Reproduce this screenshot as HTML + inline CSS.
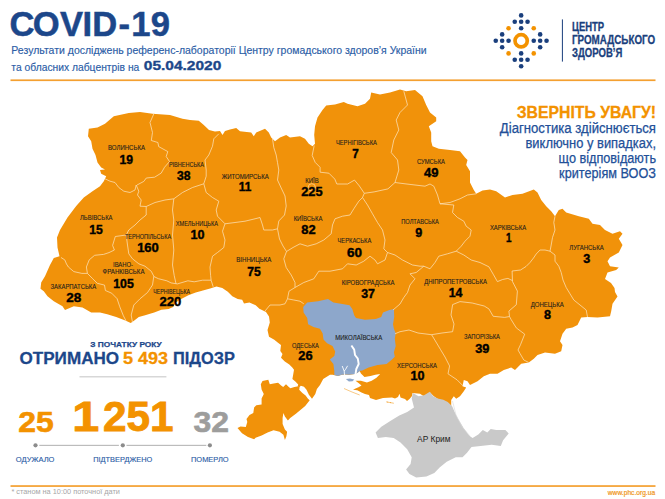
<!DOCTYPE html>
<html lang="uk"><head><meta charset="utf-8"><title>COVID-19</title>
<style>
html,body{margin:0;padding:0;background:#fff;overflow:hidden}
svg{display:block}
text{font-family:"Liberation Sans",sans-serif}
</style></head><body>
<svg width="665" height="499" viewBox="0 0 665 499">
<rect width="665" height="499" fill="#fff"/>
<text x="9.4 32.8 60 82.5 92.3 118.6 131.2 150.7" y="36.4" font-size="34.6" font-weight="bold" fill="#1C478A" stroke="#1C478A" stroke-width="0.5">COVID-19</text>
<text x="11.3" y="53.7" font-size="10.8" fill="#2B5DA6" stroke="#2B5DA6" stroke-width="0.15" textLength="415.4" lengthAdjust="spacingAndGlyphs">Результати досліджень референс-лабораторії Центру громадського здоров’я України</text>
<text x="11.3" y="70.8" font-size="10.8" fill="#2B5DA6" stroke="#2B5DA6" stroke-width="0.15" textLength="128" lengthAdjust="spacingAndGlyphs">та обласних лабцентрів на</text>
<text x="143.8" y="70.2" font-size="13.2" font-weight="bold" fill="#1C478A" stroke="#1C478A" stroke-width="0.35" textLength="77.5" lengthAdjust="spacingAndGlyphs">05.04.2020</text>
<rect x="10.5" y="79.4" width="645" height="1.7" fill="#F4A030"/>
<rect x="10.5" y="485.2" width="645" height="1.7" fill="#F4A030"/>
<circle cx="495.75" cy="40.80" r="2.3" fill="#1A3F7D"/>
<circle cx="502.15" cy="34.40" r="2.3" fill="#1A3F7D"/>
<circle cx="502.15" cy="40.80" r="2.3" fill="#1A3F7D"/>
<circle cx="502.15" cy="47.20" r="2.3" fill="#1A3F7D"/>
<circle cx="508.55" cy="40.80" r="2.3" fill="#1A3F7D"/>
<circle cx="514.75" cy="21.80" r="2.3" fill="#1A3F7D"/>
<circle cx="514.75" cy="59.80" r="2.3" fill="#1A3F7D"/>
<circle cx="521.15" cy="15.40" r="2.3" fill="#1A3F7D"/>
<circle cx="521.15" cy="21.80" r="2.3" fill="#1A3F7D"/>
<circle cx="521.15" cy="28.20" r="2.3" fill="#1A3F7D"/>
<circle cx="521.15" cy="53.40" r="2.3" fill="#1A3F7D"/>
<circle cx="521.15" cy="59.80" r="2.3" fill="#1A3F7D"/>
<circle cx="521.15" cy="66.20" r="2.3" fill="#1A3F7D"/>
<circle cx="527.55" cy="21.80" r="2.3" fill="#1A3F7D"/>
<circle cx="527.55" cy="59.80" r="2.3" fill="#1A3F7D"/>
<circle cx="533.75" cy="40.80" r="2.3" fill="#1A3F7D"/>
<circle cx="540.15" cy="34.40" r="2.3" fill="#1A3F7D"/>
<circle cx="540.15" cy="40.80" r="2.3" fill="#1A3F7D"/>
<circle cx="540.15" cy="47.20" r="2.3" fill="#1A3F7D"/>
<circle cx="546.55" cy="40.80" r="2.3" fill="#1A3F7D"/>
<circle cx="508.55" cy="28.20" r="2.3" fill="#F39200"/>
<circle cx="508.55" cy="53.40" r="2.3" fill="#F39200"/>
<circle cx="533.75" cy="28.20" r="2.3" fill="#F39200"/>
<circle cx="533.75" cy="53.40" r="2.3" fill="#F39200"/>
<circle cx="521.15" cy="40.8" r="6.15" fill="none" stroke="#F39200" stroke-width="3.7"/>
<rect x="561.9" y="19.4" width="1" height="42.2" fill="#1A3F7D"/>
<text x="572" y="30.7" font-size="12.2" font-weight="bold" fill="#1A3F7D" stroke="#1A3F7D" stroke-width="0.3" textLength="32.1" lengthAdjust="spacingAndGlyphs">ЦЕНТР</text>
<text x="572" y="43.9" font-size="12.2" font-weight="bold" fill="#1A3F7D" stroke="#1A3F7D" stroke-width="0.3" textLength="83.1" lengthAdjust="spacingAndGlyphs">ГРОМАДСЬКОГО</text>
<text x="572" y="57.2" font-size="12.2" font-weight="bold" fill="#1A3F7D" stroke="#1A3F7D" stroke-width="0.3" textLength="50.3" lengthAdjust="spacingAndGlyphs">ЗДОРОВ’Я</text>
<text x="656.1" y="117.6" font-size="16.6" stroke="#F39200" stroke-width="0.3" font-weight="bold" fill="#F39200" text-anchor="end" textLength="139.4" lengthAdjust="spacingAndGlyphs">ЗВЕРНІТЬ УВАГУ!</text>
<text x="656" y="133.1" font-size="14" fill="#224F98" stroke="#224F98" stroke-width="0.25" text-anchor="end" textLength="156.2" lengthAdjust="spacingAndGlyphs">Діагностика здійснюється</text>
<text x="656" y="148.1" font-size="14" fill="#224F98" stroke="#224F98" stroke-width="0.25" text-anchor="end" textLength="130.5" lengthAdjust="spacingAndGlyphs">виключно у випадках,</text>
<text x="656" y="163.0" font-size="14" fill="#224F98" stroke="#224F98" stroke-width="0.25" text-anchor="end" textLength="97.4" lengthAdjust="spacingAndGlyphs">що відповідають</text>
<text x="656" y="177.7" font-size="14" fill="#224F98" stroke="#224F98" stroke-width="0.25" text-anchor="end" textLength="96.9" lengthAdjust="spacingAndGlyphs">критеріям ВООЗ</text>
<text x="126" y="346.7" font-size="8" font-weight="bold" fill="#1C478A" stroke="#1C478A" stroke-width="0.25" text-anchor="middle" textLength="71.5" lengthAdjust="spacingAndGlyphs">З ПОЧАТКУ РОКУ</text>
<text y="364.1" font-size="17.2" font-weight="bold" fill="#1C478A" stroke="#1C478A" stroke-width="0.3"><tspan x="19.5" textLength="99.6" lengthAdjust="spacingAndGlyphs">ОТРИМАНО</tspan><tspan font-size="4"> </tspan><tspan x="122.9" fill="#F39200" stroke="#F39200" textLength="45.2" lengthAdjust="spacingAndGlyphs">5 493</tspan><tspan font-size="4"> </tspan><tspan x="173" textLength="61.8" lengthAdjust="spacingAndGlyphs">ПІДОЗР</tspan></text>
<rect x="79.5" y="376.4" width="86.9" height="0.9" fill="#bdbdbd"/>
<text x="18.2" y="431.6" font-size="29.8" font-weight="bold" fill="#F39200" stroke="#F39200" stroke-width="0.6" textLength="35.5" lengthAdjust="spacingAndGlyphs">25</text>
<text y="430.6" font-size="42.6" font-weight="bold" fill="#F39200" stroke="#F39200" stroke-width="0.9"><tspan x="72.3" textLength="27" lengthAdjust="spacingAndGlyphs">1</tspan><tspan font-size="10"> </tspan><tspan x="103" textLength="70.5" lengthAdjust="spacingAndGlyphs">251</tspan></text>
<text x="193.6" y="431.6" font-size="29.8" font-weight="bold" fill="#9D9D9C" stroke="#9D9D9C" stroke-width="0.6" textLength="35.5" lengthAdjust="spacingAndGlyphs">32</text>
<rect x="39.3" y="444.85" width="79.6" height="0.9" fill="#a6a6a6"/>
<rect x="126.5" y="444.85" width="79.8" height="0.9" fill="#a6a6a6"/>
<circle cx="35.5" cy="445.3" r="2.1" fill="#8c8c8c"/>
<circle cx="122.8" cy="445.3" r="2.1" fill="#8c8c8c"/>
<circle cx="209.9" cy="445.3" r="2.1" fill="#8c8c8c"/>
<text x="15.8" y="461.9" font-size="7.1" fill="#2B5DA6" stroke="#2B5DA6" stroke-width="0.12" textLength="38.7" lengthAdjust="spacingAndGlyphs">ОДУЖАЛО</text>
<text x="93.2" y="461.9" font-size="7.1" fill="#2B5DA6" stroke="#2B5DA6" stroke-width="0.12" textLength="59.1" lengthAdjust="spacingAndGlyphs">ПІДТВЕРДЖЕНО</text>
<text x="191" y="461.9" font-size="7.1" fill="#2B5DA6" stroke="#2B5DA6" stroke-width="0.12" textLength="37.6" lengthAdjust="spacingAndGlyphs">ПОМЕРЛО</text>
<text x="11.4" y="494.2" font-size="7.3" fill="#a6a6a6" textLength="108.6" lengthAdjust="spacingAndGlyphs">* станом на 10:00 поточної дати</text>
<text x="655.1" y="494.7" font-size="6.8" fill="#F0961A" stroke="#F0961A" stroke-width="0.2" text-anchor="end" textLength="47.3" lengthAdjust="spacingAndGlyphs">www.phc.org.ua</text>
<path d="M113.8,116.2 L128.8,113.0 L140.0,112.0 L152.5,113.8 L170.0,115.0 L182.5,118.8 L190.0,120.0 L198.8,120.8 L203.8,125.0 L209.0,130.0 L215.0,131.5 L220.0,131.0 L222.5,135.0 L225.0,131.0 L230.0,129.5 L236.2,128.0 L240.0,131.2 L251.2,132.5 L253.8,136.2 L256.2,132.5 L265.0,128.8 L268.8,132.5 L271.2,137.5 L275.0,141.2 L280.0,137.5 L286.2,135.0 L290.0,137.5 L300.0,136.2 L305.0,138.8 L308.8,143.8 L312.5,146.2 L315.0,143.8 L314.2,135.0 L315.0,126.2 L317.5,117.5 L322.5,110.0 L326.2,105.5 L335.0,104.5 L343.8,102.0 L347.5,103.8 L357.5,106.2 L365.0,103.8 L370.0,98.8 L371.2,92.5 L380.0,94.5 L390.0,92.5 L400.0,89.5 L406.2,91.2 L415.0,90.0 L422.5,96.2 L426.2,105.0 L430.0,112.5 L436.2,117.5 L436.2,121.2 L428.8,126.2 L431.2,132.5 L431.2,141.2 L432.5,146.2 L438.8,148.8 L450.0,150.0 L460.0,151.2 L465.0,157.5 L467.5,160.0 L466.2,165.0 L470.0,171.2 L470.0,182.5 L473.8,190.0 L476.2,193.8 L482.5,190.5 L490.0,189.5 L496.2,191.2 L505.0,197.5 L512.5,195.0 L522.5,193.8 L533.8,189.5 L537.5,192.5 L541.2,200.0 L546.2,206.2 L551.2,211.2 L555.0,216.2 L558.8,210.0 L562.5,208.8 L566.2,212.5 L578.8,216.2 L588.8,218.8 L592.5,223.8 L600.0,225.0 L605.0,230.0 L612.5,233.8 L620.0,231.2 L622.5,233.8 L618.8,238.8 L622.5,245.0 L618.8,252.5 L610.0,257.5 L607.5,261.2 L610.0,266.2 L618.8,267.5 L616.2,270.0 L607.5,272.5 L605.0,279.0 L611.0,283.0 L614.5,288.0 L615.0,292.0 L617.5,296.5 L612.5,303.8 L611.2,311.2 L610.0,316.2 L597.5,317.5 L587.5,317.0 L581.2,317.5 L577.5,325.0 L572.5,327.5 L566.2,328.8 L562.5,333.8 L560.0,341.2 L562.5,345.0 L561.2,351.2 L555.0,353.8 L545.0,352.5 L537.5,355.0 L533.8,358.8 L528.8,362.5 L521.2,363.8 L515.0,370.0 L511.2,367.5 L503.8,370.0 L497.5,373.8 L490.0,373.8 L483.8,376.2 L477.5,381.2 L470.0,385.0 L467.5,381.2 L463.8,380.0 L462.5,386.2 L466.2,387.5 L463.8,391.2 L460.0,396.2 L456.2,398.8 L453.8,396.2 L451.2,400.0 L451.2,406.2 L448.8,407.5 L445.0,401.2 L441.2,401.2 L437.5,398.8 L433.8,396.2 L430.0,392.5 L427.5,396.2 L423.8,396.2 L420.0,393.8 L412.5,393.0 L412.0,396.0 L409.5,399.0 L407.0,401.0 L405.0,399.0 L400.5,397.5 L399.5,393.8 L398.0,397.0 L395.0,398.5 L392.0,397.5 L383.0,398.0 L376.0,400.0 L370.0,398.0 L369.0,395.0 L365.0,394.0 L362.0,392.7 L357.3,390.3 L353.0,389.7 L355.5,388.5 L358.5,387.3 L361.5,385.5 L358.5,383.0 L355.5,380.7 L360.9,380.7 L366.9,382.5 L371.7,380.7 L376.5,377.7 L380.2,374.0 L375.3,374.7 L370.5,375.9 L364.5,377.0 L360.9,373.5 L359.7,371.0 L357.3,372.9 L354.9,374.0 L348.9,374.7 L345.3,374.4 L341.7,374.8 L338.0,375.9 L332.6,374.7 L330.0,374.8 L323.2,379.0 L320.0,385.0 L316.9,389.0 L315.3,393.9 L312.0,398.7 L308.9,394.7 L306.5,389.8 L304.0,386.8 L300.8,385.8 L299.4,387.2 L297.6,386.4 L298.2,384.6 L295.6,381.8 L292.4,379.0 L293.2,374.6 L294.0,369.8 L292.3,367.6 L289.3,364.6 L284.8,361.6 L281.0,357.8 L282.5,354.0 L280.3,351.0 L281.0,345.0 L278.0,342.8 L274.3,339.8 L269.0,336.8 L267.5,330.0 L269.8,322.5 L269.0,316.5 L266.0,312.0 L259.4,308.8 L255.7,305.2 L249.4,302.5 L244.0,303.4 L242.2,299.8 L237.7,298.9 L232.3,296.2 L227.8,291.7 L222.3,288.0 L216.5,286.6 L210.1,288.6 L202.9,290.6 L195.7,292.5 L188.4,295.3 L181.2,299.0 L175.8,302.6 L173.1,307.1 L168.6,308.9 L161.4,309.8 L154.2,312.5 L145.1,315.2 L138.8,317.0 L134.3,320.6 L130.7,323.0 L125.3,320.6 L116.2,317.0 L107.2,314.3 L100.0,312.5 L91.2,312.5 L82.5,307.5 L73.8,306.2 L65.0,310.0 L62.5,306.2 L53.8,301.2 L47.5,296.2 L43.8,291.2 L40.5,288.8 L41.2,282.5 L45.0,276.2 L50.0,265.0 L53.8,258.0 L59.5,256.2 L57.5,247.5 L57.0,237.5 L60.0,230.0 L67.5,217.5 L76.2,206.0 L83.8,197.5 L92.5,191.2 L100.0,186.2 L103.8,181.2 L106.2,176.2 L101.2,173.8 L100.0,170.0 L105.0,169.5 L101.2,167.5 L97.5,162.5 L95.5,155.0 L92.5,148.8 L91.2,141.2 L88.0,136.2 L88.8,128.8 L97.5,127.5 L105.0,123.8Z" fill="#F1920A"/>
<path d="M299.2,389.8 L302.4,393.0 L305.6,395.5 L308.0,398.7 L309.7,400.3 L305.2,406.0 L300.7,409.8 L296.2,413.6 L290.2,418.0 L287.9,420.4 L284.9,416.6 L283.4,412.9 L282.6,418.0 L282.6,424.0 L284.9,429.4 L287.1,431.7 L286.4,436.2 L284.9,439.9 L283.4,434.7 L279.6,431.7 L273.6,430.2 L267.6,432.4 L261.6,435.4 L255.6,437.7 L254.1,439.2 L248.0,436.9 L242.0,433.2 L237.5,427.9 L240.5,426.4 L245.8,427.1 L247.3,421.9 L246.5,418.9 L249.5,415.1 L253.3,412.9 L254.1,407.6 L256.3,405.3 L261.6,404.6 L261.6,398.6 L263.8,394.1 L261.6,389.5 L260.8,384.3 L262.5,381.0 L268.3,379.8 L269.8,384.3 L273.6,383.5 L278.1,382.8 L281.1,385.5 L283.2,387.0 L286.0,384.2 L288.8,387.0 L290.4,388.2 L294.4,387.0 L298.6,386.2 L299.6,387.4Z" fill="#F1920A"/>
<path d="M303.2,307.1 L307.2,302.6 L318.0,301.2 L328.0,299.0 L333.4,302.6 L342.4,304.1 L349.6,305.3 L352.3,309.0 L354.2,315.3 L356.0,318.0 L365.0,319.8 L375.8,318.9 L381.2,317.1 L383.0,312.6 L389.4,309.9 L393.9,309.0 L394.2,317.1 L393.0,324.3 L393.9,328.8 L395.7,333.3 L394.8,338.7 L395.7,346.0 L393.9,352.3 L394.8,356.8 L392.0,359.5 L386.6,364.0 L377.6,364.9 L368.6,367.6 L362.3,370.5 L359.7,371.0 L357.3,372.9 L354.9,374.0 L348.9,374.7 L345.3,374.4 L341.7,374.8 L338.0,375.9 L334.3,375.0 L334.3,371.2 L333.4,364.0 L329.8,359.5 L334.3,355.9 L335.2,351.4 L332.5,346.0 L327.1,343.2 L323.5,339.6 L322.6,333.3 L319.9,328.8 L313.5,327.0 L308.1,324.3 L307.2,318.0 L303.6,312.6Z" fill="#8DA7CB"/>
<path d="M345.9,378.9 L350.0,378.6 L354.3,379.5 L352.5,381.3 L348.9,381.5 L347.0,380.0Z" fill="#8DA7CB"/>
<path d="M412.9,392.9 L418.5,396.3 L424.1,395.2 L429.8,391.8 L433.2,396.3 L437.7,398.5 L443.3,399.7 L447.8,401.9 L451.2,405.3 L452.3,406.4 L454.6,412.1 L458.0,418.8 L463.6,427.9 L469.3,435.8 L472.6,438.0 L478.3,434.6 L482.8,430.1 L487.3,432.4 L490.7,429.0 L496.3,430.1 L505.4,430.1 L508.7,433.5 L503.1,440.3 L500.8,445.9 L491.8,444.8 L480.5,445.9 L471.5,447.0 L467.0,452.7 L462.5,457.2 L455.7,457.2 L446.7,461.7 L439.9,467.3 L434.3,473.0 L426.4,476.4 L416.2,477.5 L409.5,474.1 L406.1,469.6 L410.6,464.0 L411.7,457.2 L407.2,449.3 L400.5,442.5 L393.7,438.0 L385.8,436.9 L377.9,438.0 L375.6,432.4 L381.3,426.7 L390.3,421.0 L399.3,415.5 L407.2,412.0 L414.0,407.6 L411.7,398.5Z" fill="#C9C9C9"/>
<path d="M344,388.5 L352,392 L359.7,395" fill="none" stroke="#F1920A" stroke-width="0.5"/>
<path d="M386.5,401.9 L393.5,403.2" fill="none" stroke="#F1920A" stroke-width="0.9" stroke-dasharray="2.2 0.8"/>
<path d="M452.5,401 L456,415 L462.5,427.5 L470,436" fill="none" stroke="#d9d9d9" stroke-width="0.6"/>
<path d="M154.2,113.0 L150.0,122.5 L152.5,132.5 L151.3,140.5 L157.9,142.5 L158.7,146.6 L167.8,151.6 L166.2,156.5 L169.5,161.5 L164.5,167.3 L161.2,173.1 L154.6,177.2 L146.3,178.0 L143.8,181.4 L137.0,185.0 M105.0,178.8 L110.0,181.2 L115.0,182.5 L118.8,187.5 L123.8,191.2 L130.0,192.5 L135.0,190.0 L136.2,185.0 M136.2,185.0 L138.8,191.2 L137.5,195.0 L141.2,200.0 L140.0,206.2 L146.2,206.5 M146.2,206.5 L155.0,202.5 L165.0,200.0 L173.8,198.8 M173.8,198.8 L182.5,192.5 L192.5,187.5 L203.8,183.8 M218.8,133.8 L213.8,138.8 L212.5,146.2 L208.8,155.0 L205.0,160.0 L206.2,170.0 L206.2,176.2 L203.8,183.8 M203.8,183.8 L206.2,192.5 L212.5,197.5 L218.8,201.2 L216.2,210.0 L217.5,216.2 L225.0,223.8 M225.0,223.8 L235.0,222.5 L245.0,221.2 L255.0,218.8 L260.0,217.5 L262.5,225.0 L263.8,230.0 L272.5,230.0 L277.5,228.8 M225.0,223.8 L222.5,231.2 L225.0,240.0 L223.8,247.5 L217.5,252.5 L212.5,256.2 L210.0,267.1 L210.6,275.5 L211.1,280.2 M146.2,206.5 L146.2,215.0 L140.0,220.0 L135.0,225.0 L128.8,230.0 L126.2,235.0 M126.2,235.0 L115.3,236.5 L112.6,245.4 L114.4,250.0 L109.0,252.6 L103.6,254.4 L94.6,255.3 L89.2,259.9 L86.4,267.0 L87.4,273.4 M61.0,257.5 L64.8,259.9 L66.5,264.0 L68.4,267.0 L73.8,271.6 L81.9,273.4 L87.4,273.4 M87.4,273.4 L92.8,278.8 L97.3,283.3 L104.5,285.1 L105.4,290.5 L111.7,293.2 L117.1,298.7 L119.8,306.8 L123.4,315.8 L126.0,320.8 M126.2,235.0 L127.5,245.0 L128.8,253.8 L132.5,258.8 L138.8,263.8 L145.0,266.2 L151.2,271.2 L153.8,276.2 M153.8,276.2 L152.5,285.0 L147.5,292.5 L140.0,298.8 L133.8,305.0 L131.2,315.0 L132.5,322.5 M153.8,276.5 L158.4,278.7 L166.8,280.8 L171.1,282.9 L176.0,283.7 M173.8,198.8 L172.5,210.0 L173.8,220.0 L172.5,235.0 L173.8,250.0 L172.5,265.0 L174.2,275.5 L176.0,283.7 M176.0,283.7 L177.4,283.9 L187.9,280.8 L194.2,281.8 L202.6,280.2 L211.1,280.2 L213.2,286.8 M272.5,138.8 L273.8,147.5 L276.2,155.0 L277.5,162.5 L278.8,170.0 L277.5,180.0 L281.2,188.0 L285.0,196.0 L286.2,206.0 L284.5,215.0 L278.8,221.0 L277.5,228.8 M277.5,228.8 L279.5,239.0 L283.0,246.0 L286.5,251.5 M286.5,251.5 L293.0,247.5 L300.0,243.8 L307.5,246.2 L316.2,243.8 L323.8,240.0 L331.2,233.8 L332.5,225.0 L335.0,218.8 L342.5,216.2 L350.0,215.0 L353.8,208.8 L358.8,201.2 L362.5,197.5 M362.5,197.5 L364.3,193.3 M314.2,145.5 L312.2,155.5 L315.2,162.4 L320.1,167.3 L320.1,172.2 L328.9,173.2 L334.8,179.1 L336.8,184.0 L347.6,184.0 L354.5,180.1 L359.4,186.0 L364.3,193.3 M364.3,193.3 L374.1,191.9 L387.9,188.9 L395.0,182.5 M403.8,91.2 L407.5,105.0 L400.0,112.5 L396.2,120.0 L398.8,130.0 L393.8,140.0 L391.2,152.5 L397.5,160.0 L398.8,170.0 L395.0,182.5 M395.0,182.5 L405.0,183.8 L415.0,185.0 L425.0,186.2 L430.0,184.0 L433.8,186.2 L437.5,195.0 L440.0,203.8 M440.0,203.8 L450.0,202.5 L460.0,198.8 L467.5,195.0 L476.2,193.8 M440.0,203.8 L453.8,205.0 L452.5,212.5 L457.5,217.5 L463.8,221.2 L466.2,226.2 L471.2,230.0 L470.0,236.2 L465.0,241.2 L461.2,246.2 L456.2,251.2 M456.2,251.2 L447.5,253.8 L438.8,256.2 L435.0,262.5 L430.0,268.8 L423.8,266.2 M423.8,266.2 L420.0,266.2 L412.5,265.0 L402.5,260.0 L395.0,255.0 L387.5,252.5 M362.5,197.5 L367.5,205.0 L372.5,213.8 L377.5,222.5 L382.5,230.0 L385.0,240.0 L383.8,248.8 L387.5,252.5 M295.0,287.5 L303.8,282.5 L313.8,278.8 L318.8,271.2 L330.0,271.2 L342.5,268.8 L347.5,263.8 L356.2,265.0 L363.8,261.2 L370.0,256.2 L375.0,260.0 L377.5,263.8 L385.0,260.0 L387.5,252.5 M286.5,251.5 L283.8,258.8 L286.2,267.5 L291.2,275.0 L295.0,282.5 L295.0,287.5 M295.0,287.5 L289.0,291.2 L287.5,298.8 M264.8,311.3 L270.0,305.0 L280.0,305.0 L285.0,303.8 L287.5,298.8 M287.5,298.8 L293.8,300.0 L300.0,301.2 L303.8,303.8 M423.8,266.2 L416.2,272.5 L410.0,273.8 L415.0,278.8 L410.0,285.0 L407.5,292.5 L403.8,297.5 L400.0,304.0 L393.0,310.0 M456.2,251.2 L463.8,255.0 L471.2,260.0 L480.0,262.5 L488.9,266.8 L493.2,274.2 L497.4,281.6 L502.6,279.5 L507.9,278.4 L512.3,280.5 M512.1,271.0 L520.5,270.0 L526.0,266.5 L530.0,262.5 L533.5,258.0 L536.2,254.0 L540.0,250.0 L545.0,250.0 L550.0,251.2 M555.0,216.2 L553.8,222.5 L555.0,230.0 L552.5,237.5 L551.2,245.0 L550.0,251.2 M550.0,251.2 L555.0,255.0 L555.0,261.2 L558.8,266.2 L561.2,272.5 L563.0,280.0 L566.2,287.5 L570.0,293.8 L573.8,300.0 L580.0,305.0 L586.2,310.0 L587.5,317.0 M512.1,271.0 L512.5,281.6 L517.4,291.1 L516.3,304.7 L508.9,311.1 L509.5,316.5 M509.5,316.5 L511.1,319.5 L516.3,327.9 L524.7,334.2 L520.5,344.7 L518.0,350.0 L520.0,353.5 L523.8,360.0 L528.8,362.5 M509.5,316.5 L504.7,317.4 L493.2,316.3 L488.9,308.9 L484.2,306.0 L472.2,303.0 L460.0,301.6 L452.6,304.6 L451.0,315.0 L454.0,324.0 L452.6,331.7 L442.0,333.0 L431.6,334.7 M431.6,334.7 L418.0,333.0 L409.0,330.0 L400.0,331.7 L395.0,333.8 M431.6,334.7 L436.0,342.0 L440.6,349.7 L445.0,357.0 L449.6,366.0 L448.0,373.8 L457.0,379.8 L463.0,385.8" fill="none" stroke="#FCE6C4" stroke-width="0.7" stroke-linejoin="round"/>
<circle cx="311.8" cy="187.3" r="3.6" fill="none" stroke="#FCE6C4" stroke-width="0.6"/>
<path d="M351.4,345.5 L354.2,349.6 L355.0,355.0 L357.8,358.6 L358.7,364.0 L356.3,369.0 L355.5,374.5" fill="none" stroke="#fff" stroke-width="1.9" stroke-linejoin="round"/>
<path d="M342.2,366.0 L344.2,371.0 L344.5,375.0 M347.6,365.8 L345.5,369.5 L344.2,371.0" fill="none" stroke="#fff" stroke-width="0.9"/>
<text x="126.50" y="149.79" font-size="6.4" fill="#1d1d1b" stroke="#1d1d1b" stroke-width="0.1" text-anchor="middle" textLength="37" lengthAdjust="spacingAndGlyphs">ВОЛИНСЬКА</text>
<text x="126.25" y="163.72" font-size="12.5" font-weight="bold" fill="#000" stroke="#000" stroke-width="0.4" text-anchor="middle" textLength="13.5" lengthAdjust="spacingAndGlyphs">19</text>
<text x="186.40" y="166.79" font-size="6.4" fill="#1d1d1b" stroke="#1d1d1b" stroke-width="0.1" text-anchor="middle" textLength="35" lengthAdjust="spacingAndGlyphs">РІВНЕНСЬКА</text>
<text x="183.70" y="180.07" font-size="12.5" font-weight="bold" fill="#000" stroke="#000" stroke-width="0.4" text-anchor="middle" textLength="13.5" lengthAdjust="spacingAndGlyphs">38</text>
<text x="245.25" y="178.54" font-size="6.4" fill="#1d1d1b" stroke="#1d1d1b" stroke-width="0.1" text-anchor="middle" textLength="47" lengthAdjust="spacingAndGlyphs">ЖИТОМИРСЬКА</text>
<text x="245.00" y="191.22" font-size="12.5" font-weight="bold" fill="#000" stroke="#000" stroke-width="0.4" text-anchor="middle" textLength="12.5" lengthAdjust="spacingAndGlyphs">11</text>
<text x="312.00" y="183.04" font-size="6.4" fill="#1d1d1b" stroke="#1d1d1b" stroke-width="0.1" text-anchor="middle" textLength="13.3" lengthAdjust="spacingAndGlyphs">КИЇВ</text>
<text x="311.90" y="196.47" font-size="12.5" font-weight="bold" fill="#000" stroke="#000" stroke-width="0.4" text-anchor="middle" textLength="21.3" lengthAdjust="spacingAndGlyphs">225</text>
<text x="356.40" y="145.29" font-size="6.4" fill="#1d1d1b" stroke="#1d1d1b" stroke-width="0.1" text-anchor="middle" textLength="41" lengthAdjust="spacingAndGlyphs">ЧЕРНІГІВСЬКА</text>
<text x="355.50" y="157.97" font-size="12.5" font-weight="bold" fill="#000" stroke="#000" stroke-width="0.4" text-anchor="middle" textLength="6.5" lengthAdjust="spacingAndGlyphs">7</text>
<text x="431.00" y="164.04" font-size="6.4" fill="#1d1d1b" stroke="#1d1d1b" stroke-width="0.1" text-anchor="middle" textLength="28" lengthAdjust="spacingAndGlyphs">СУМСЬКА</text>
<text x="431.25" y="176.97" font-size="12.5" font-weight="bold" fill="#000" stroke="#000" stroke-width="0.4" text-anchor="middle" textLength="14.5" lengthAdjust="spacingAndGlyphs">49</text>
<text x="96.25" y="219.79" font-size="6.4" fill="#1d1d1b" stroke="#1d1d1b" stroke-width="0.1" text-anchor="middle" textLength="32.5" lengthAdjust="spacingAndGlyphs">ЛЬВІВСЬКА</text>
<text x="96.00" y="233.72" font-size="12.5" font-weight="bold" fill="#000" stroke="#000" stroke-width="0.4" text-anchor="middle" textLength="13.5" lengthAdjust="spacingAndGlyphs">15</text>
<text x="148.00" y="239.29" font-size="6.4" fill="#1d1d1b" stroke="#1d1d1b" stroke-width="0.1" text-anchor="middle" textLength="46.25" lengthAdjust="spacingAndGlyphs">ТЕРНОПІЛЬСЬКА</text>
<text x="148.00" y="252.47" font-size="12.5" font-weight="bold" fill="#000" stroke="#000" stroke-width="0.4" text-anchor="middle" textLength="21.75" lengthAdjust="spacingAndGlyphs">160</text>
<text x="196.90" y="226.04" font-size="6.4" fill="#1d1d1b" stroke="#1d1d1b" stroke-width="0.1" text-anchor="middle" textLength="42.25" lengthAdjust="spacingAndGlyphs">ХМЕЛЬНИЦЬКА</text>
<text x="197.50" y="239.47" font-size="12.5" font-weight="bold" fill="#000" stroke="#000" stroke-width="0.4" text-anchor="middle" textLength="14" lengthAdjust="spacingAndGlyphs">10</text>
<text x="308.00" y="221.04" font-size="6.4" fill="#1d1d1b" stroke="#1d1d1b" stroke-width="0.1" text-anchor="middle" textLength="28.75" lengthAdjust="spacingAndGlyphs">КИЇВСЬКА</text>
<text x="308.40" y="234.47" font-size="12.5" font-weight="bold" fill="#000" stroke="#000" stroke-width="0.4" text-anchor="middle" textLength="14.3" lengthAdjust="spacingAndGlyphs">82</text>
<text x="420.00" y="223.54" font-size="6.4" fill="#1d1d1b" stroke="#1d1d1b" stroke-width="0.1" text-anchor="middle" textLength="37.5" lengthAdjust="spacingAndGlyphs">ПОЛТАВСЬКА</text>
<text x="418.75" y="236.97" font-size="12.5" font-weight="bold" fill="#000" stroke="#000" stroke-width="0.4" text-anchor="middle" textLength="7" lengthAdjust="spacingAndGlyphs">9</text>
<text x="508.00" y="230.29" font-size="6.4" fill="#1d1d1b" stroke="#1d1d1b" stroke-width="0.1" text-anchor="middle" textLength="36.25" lengthAdjust="spacingAndGlyphs">ХАРКІВСЬКА</text>
<text x="508.75" y="242.47" font-size="12.5" font-weight="bold" fill="#000" stroke="#000" stroke-width="0.4" text-anchor="middle" textLength="5.5" lengthAdjust="spacingAndGlyphs">1</text>
<text x="586.50" y="250.29" font-size="6.4" fill="#1d1d1b" stroke="#1d1d1b" stroke-width="0.1" text-anchor="middle" textLength="34.5" lengthAdjust="spacingAndGlyphs">ЛУГАНСЬКА</text>
<text x="586.75" y="263.23" font-size="12.5" font-weight="bold" fill="#000" stroke="#000" stroke-width="0.4" text-anchor="middle" textLength="7" lengthAdjust="spacingAndGlyphs">3</text>
<text x="354.40" y="243.29" font-size="6.4" fill="#1d1d1b" stroke="#1d1d1b" stroke-width="0.1" text-anchor="middle" textLength="33.75" lengthAdjust="spacingAndGlyphs">ЧЕРКАСЬКА</text>
<text x="354.50" y="256.98" font-size="12.5" font-weight="bold" fill="#000" stroke="#000" stroke-width="0.4" text-anchor="middle" textLength="15" lengthAdjust="spacingAndGlyphs">60</text>
<text x="253.75" y="261.79" font-size="6.4" fill="#1d1d1b" stroke="#1d1d1b" stroke-width="0.1" text-anchor="middle" textLength="35" lengthAdjust="spacingAndGlyphs">ВІННИЦЬКА</text>
<text x="254.00" y="275.73" font-size="12.5" font-weight="bold" fill="#000" stroke="#000" stroke-width="0.4" text-anchor="middle" textLength="13.5" lengthAdjust="spacingAndGlyphs">75</text>
<text x="123.50" y="274.29" font-size="6.4" fill="#1d1d1b" stroke="#1d1d1b" stroke-width="0.1" text-anchor="middle" textLength="42" lengthAdjust="spacingAndGlyphs">ФРАНКІВСЬКА</text>
<text x="123.50" y="288.23" font-size="12.5" font-weight="bold" fill="#000" stroke="#000" stroke-width="0.4" text-anchor="middle" textLength="20.5" lengthAdjust="spacingAndGlyphs">105</text>
<text x="73.40" y="289.04" font-size="6.4" fill="#1d1d1b" stroke="#1d1d1b" stroke-width="0.1" text-anchor="middle" textLength="45.75" lengthAdjust="spacingAndGlyphs">ЗАКАРПАТСЬКА</text>
<text x="73.75" y="301.98" font-size="12.5" font-weight="bold" fill="#000" stroke="#000" stroke-width="0.4" text-anchor="middle" textLength="15" lengthAdjust="spacingAndGlyphs">28</text>
<text x="171.60" y="293.54" font-size="6.4" fill="#1d1d1b" stroke="#1d1d1b" stroke-width="0.1" text-anchor="middle" textLength="36.75" lengthAdjust="spacingAndGlyphs">ЧЕРНІВЕЦЬКА</text>
<text x="170.40" y="306.48" font-size="12.5" font-weight="bold" fill="#000" stroke="#000" stroke-width="0.4" text-anchor="middle" textLength="21.75" lengthAdjust="spacingAndGlyphs">220</text>
<text x="368.00" y="285.29" font-size="6.4" fill="#1d1d1b" stroke="#1d1d1b" stroke-width="0.1" text-anchor="middle" textLength="52.75" lengthAdjust="spacingAndGlyphs">КІРОВОГРАДСЬКА</text>
<text x="368.00" y="298.23" font-size="12.5" font-weight="bold" fill="#000" stroke="#000" stroke-width="0.4" text-anchor="middle" textLength="13.75" lengthAdjust="spacingAndGlyphs">37</text>
<text x="455.60" y="284.04" font-size="6.4" fill="#1d1d1b" stroke="#1d1d1b" stroke-width="0.1" text-anchor="middle" textLength="62.75" lengthAdjust="spacingAndGlyphs">ДНІПРОПЕТРОВСЬКА</text>
<text x="455.60" y="297.48" font-size="12.5" font-weight="bold" fill="#000" stroke="#000" stroke-width="0.4" text-anchor="middle" textLength="13.75" lengthAdjust="spacingAndGlyphs">14</text>
<text x="547.25" y="306.54" font-size="6.4" fill="#1d1d1b" stroke="#1d1d1b" stroke-width="0.1" text-anchor="middle" textLength="33" lengthAdjust="spacingAndGlyphs">ДОНЕЦЬКА</text>
<text x="547.50" y="318.98" font-size="12.5" font-weight="bold" fill="#000" stroke="#000" stroke-width="0.4" text-anchor="middle" textLength="7" lengthAdjust="spacingAndGlyphs">8</text>
<text x="358.70" y="339.79" font-size="6.4" fill="#1d1d1b" stroke="#1d1d1b" stroke-width="0.1" text-anchor="middle" textLength="47" lengthAdjust="spacingAndGlyphs">МИКОЛАЇВСЬКА</text>
<text x="305.40" y="347.79" font-size="6.4" fill="#1d1d1b" stroke="#1d1d1b" stroke-width="0.1" text-anchor="middle" textLength="26.75" lengthAdjust="spacingAndGlyphs">ОДЕСЬКА</text>
<text x="305.40" y="360.23" font-size="12.5" font-weight="bold" fill="#000" stroke="#000" stroke-width="0.4" text-anchor="middle" textLength="14.3" lengthAdjust="spacingAndGlyphs">26</text>
<text x="482.00" y="339.09" font-size="6.4" fill="#1d1d1b" stroke="#1d1d1b" stroke-width="0.1" text-anchor="middle" textLength="35.8" lengthAdjust="spacingAndGlyphs">ЗАПОРІЗЬКА</text>
<text x="482.30" y="352.68" font-size="12.5" font-weight="bold" fill="#000" stroke="#000" stroke-width="0.4" text-anchor="middle" textLength="14.2" lengthAdjust="spacingAndGlyphs">39</text>
<text x="417.00" y="367.79" font-size="6.4" fill="#1d1d1b" stroke="#1d1d1b" stroke-width="0.1" text-anchor="middle" textLength="40" lengthAdjust="spacingAndGlyphs">ХЕРСОНСЬКА</text>
<text x="417.50" y="380.23" font-size="12.5" font-weight="bold" fill="#000" stroke="#000" stroke-width="0.4" text-anchor="middle" textLength="14" lengthAdjust="spacingAndGlyphs">10</text>
<text x="123.00" y="267.29" font-size="6.4" fill="#1d1d1b" stroke="#1d1d1b" stroke-width="0.1" text-anchor="middle" textLength="20" lengthAdjust="spacingAndGlyphs">ІВАНО-</text>
<text x="433.8" y="442.21" font-size="8.7" fill="#1d1d1b" text-anchor="middle" textLength="33.5" lengthAdjust="spacingAndGlyphs">АР Крим</text>
</svg>
</body></html>
